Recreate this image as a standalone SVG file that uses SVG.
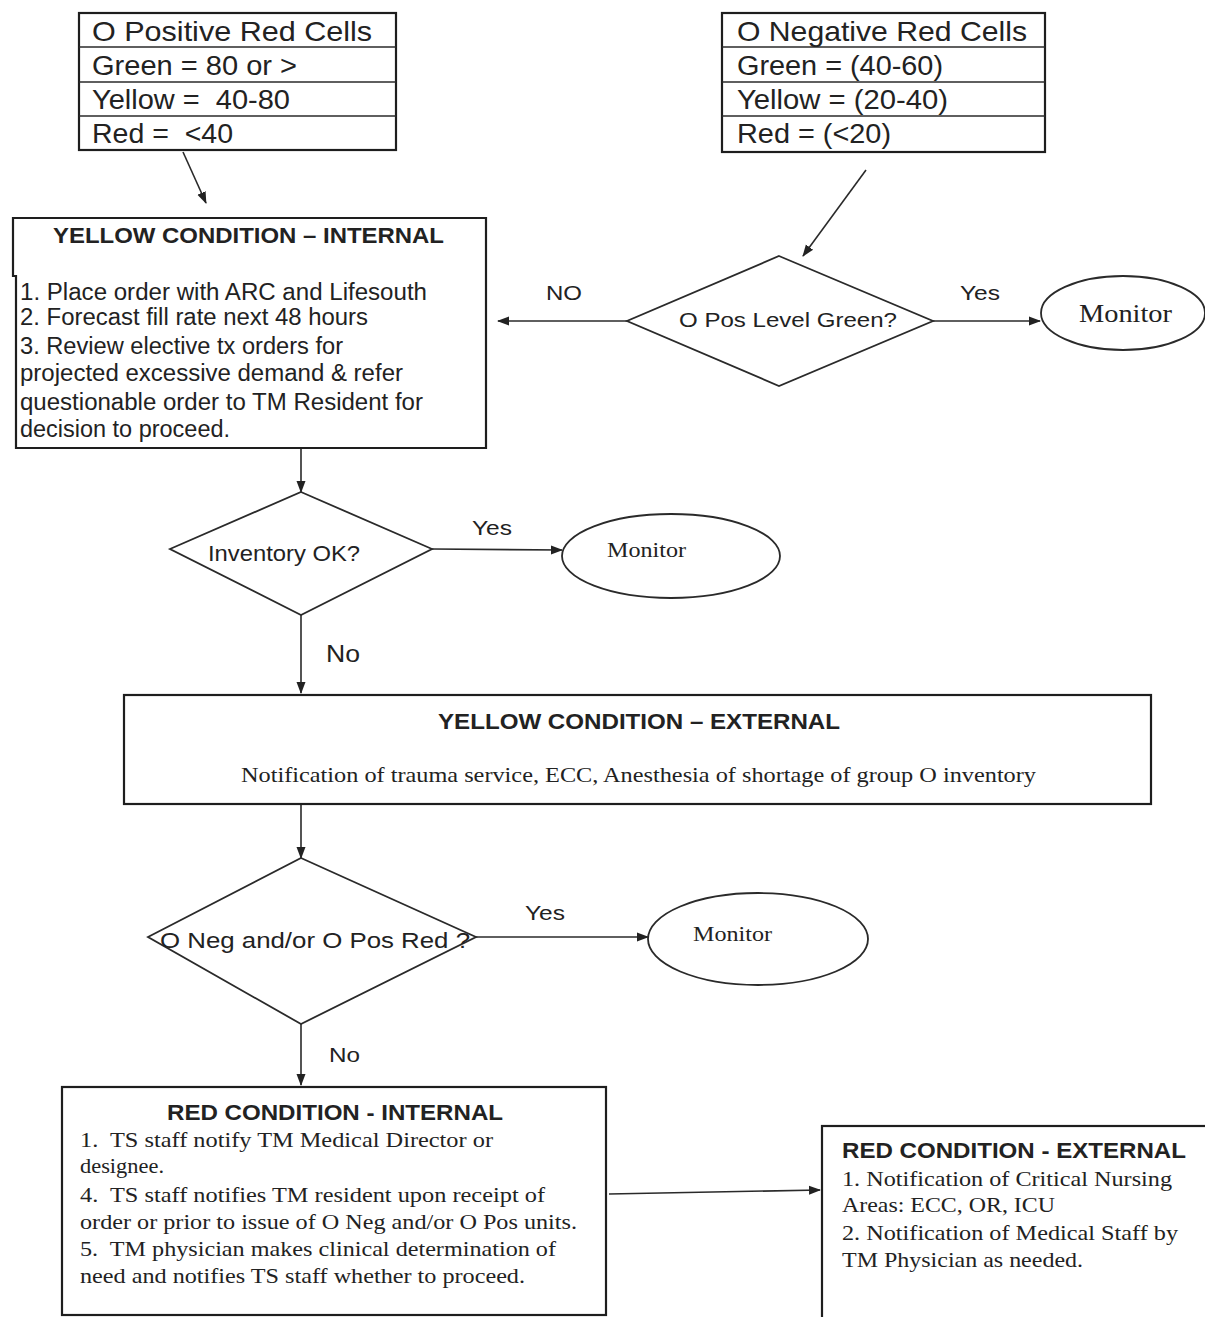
<svg xmlns="http://www.w3.org/2000/svg" width="1205" height="1317" viewBox="0 0 1205 1317">
  <style>
    .box { fill: #fff; stroke: #1e1e1e; stroke-width: 2.2; }
    .shape { fill: #fff; stroke: #2a2a2a; stroke-width: 1.8; }
    .edge { fill: none; stroke: #2a2a2a; stroke-width: 1.6; }
    .sans { font-family: "Liberation Sans", Arial, sans-serif; fill: #222; }
    .bold { font-family: "Liberation Sans", Arial, sans-serif; font-weight: bold; fill: #222; }
    .serif { font-family: "Liberation Serif", "Times New Roman", serif; fill: #222; }
  </style>
  <defs>
    <marker id="arrow" markerWidth="12" markerHeight="12" refX="11" refY="6" orient="auto" markerUnits="userSpaceOnUse">
      <path d="M0,1.5 L12,6 L0,10.5 Z" fill="#222"/>
    </marker>
  </defs>
  <rect width="1205" height="1317" fill="#fff"/>

  <!-- connectors -->
  <g id="connectors">
    <line class="edge" x1="183" y1="152" x2="206" y2="203" marker-end="url(#arrow)"/>
    <line class="edge" x1="866" y1="170" x2="803" y2="256" marker-end="url(#arrow)"/>
    <line class="edge" x1="627" y1="321" x2="498" y2="321" marker-end="url(#arrow)"/>
    <line class="edge" x1="933" y1="321" x2="1040" y2="321" marker-end="url(#arrow)"/>
    <line class="edge" x1="301" y1="448" x2="301" y2="492" marker-end="url(#arrow)"/>
    <line class="edge" x1="432" y1="549" x2="562" y2="550" marker-end="url(#arrow)"/>
    <line class="edge" x1="301" y1="615" x2="301" y2="693" marker-end="url(#arrow)"/>
    <line class="edge" x1="301" y1="804" x2="301" y2="858" marker-end="url(#arrow)"/>
    <line class="edge" x1="476" y1="937" x2="648" y2="937" marker-end="url(#arrow)"/>
    <line class="edge" x1="301" y1="1024" x2="301" y2="1085" marker-end="url(#arrow)"/>
    <line class="edge" x1="609" y1="1194" x2="820" y2="1190" marker-end="url(#arrow)"/>
    <text class="sans" x="546" y="300" font-size="21" textLength="36" lengthAdjust="spacingAndGlyphs">NO</text>
    <text class="sans" x="960" y="300" font-size="21" textLength="40" lengthAdjust="spacingAndGlyphs">Yes</text>
    <text class="sans" x="472" y="535" font-size="21" textLength="40" lengthAdjust="spacingAndGlyphs">Yes</text>
    <text class="sans" x="326" y="662" font-size="24" textLength="34" lengthAdjust="spacingAndGlyphs">No</text>
    <text class="sans" x="525" y="920" font-size="21" textLength="40" lengthAdjust="spacingAndGlyphs">Yes</text>
    <text class="sans" x="329" y="1062" font-size="21" textLength="31" lengthAdjust="spacingAndGlyphs">No</text>
  </g>

  <!-- O Positive thresholds table -->
  <g id="o-positive-table">
    <rect class="box" x="79" y="13" width="317" height="137"/>
    <line class="edge" x1="79" y1="47" x2="396" y2="47" stroke-width="2.2"/>
    <line class="edge" x1="79" y1="82" x2="396" y2="82" stroke-width="2.2"/>
    <line class="edge" x1="79" y1="116" x2="396" y2="116" stroke-width="2.2"/>
    <text class="sans" x="92" y="41" font-size="28" textLength="280" lengthAdjust="spacingAndGlyphs">O Positive Red Cells</text>
    <text class="sans" x="92" y="75" font-size="27" textLength="205" lengthAdjust="spacingAndGlyphs">Green = 80 or &gt;</text>
    <text class="sans" x="92" y="109" font-size="27" textLength="198" lengthAdjust="spacingAndGlyphs" xml:space="preserve">Yellow =  40-80</text>
    <text class="sans" x="92" y="143" font-size="27" textLength="141" lengthAdjust="spacingAndGlyphs" xml:space="preserve">Red =  &lt;40</text>
  </g>

  <!-- O Negative thresholds table -->
  <g id="o-negative-table">
    <rect class="box" x="722" y="13" width="323" height="139"/>
    <line class="edge" x1="722" y1="47" x2="1045" y2="47" stroke-width="2.2"/>
    <line class="edge" x1="722" y1="82" x2="1045" y2="82" stroke-width="2.2"/>
    <line class="edge" x1="722" y1="116" x2="1045" y2="116" stroke-width="2.2"/>
    <text class="sans" x="737" y="41" font-size="28" textLength="290" lengthAdjust="spacingAndGlyphs">O Negative Red Cells</text>
    <text class="sans" x="737" y="75" font-size="27" textLength="206" lengthAdjust="spacingAndGlyphs">Green = (40-60)</text>
    <text class="sans" x="737" y="109" font-size="27" textLength="211" lengthAdjust="spacingAndGlyphs">Yellow = (20-40)</text>
    <text class="sans" x="737" y="143" font-size="27" textLength="154" lengthAdjust="spacingAndGlyphs">Red = (&lt;20)</text>
  </g>

  <!-- Yellow condition, internal -->
  <g id="yellow-internal">
    <path class="box" d="M13,218 H486 V448 H16 V276 H13 Z"/>
    <text class="bold" x="53" y="243" font-size="22" textLength="391" lengthAdjust="spacingAndGlyphs">YELLOW CONDITION – INTERNAL</text>
    <text class="sans" x="20" y="300" font-size="23" textLength="407" lengthAdjust="spacingAndGlyphs">1. Place order with ARC and Lifesouth</text>
    <text class="sans" x="20" y="325" font-size="23" textLength="348" lengthAdjust="spacingAndGlyphs">2. Forecast fill rate next 48 hours</text>
    <text class="sans" x="20" y="354" font-size="23" textLength="323" lengthAdjust="spacingAndGlyphs">3. Review elective tx orders for</text>
    <text class="sans" x="20" y="381" font-size="23" textLength="383" lengthAdjust="spacingAndGlyphs">projected excessive demand &amp; refer</text>
    <text class="sans" x="20" y="410" font-size="23" textLength="403" lengthAdjust="spacingAndGlyphs">questionable order to TM Resident for</text>
    <text class="sans" x="20" y="437" font-size="23" textLength="210" lengthAdjust="spacingAndGlyphs">decision to proceed.</text>
  </g>

  <!-- Decision: O Pos level green -->
  <g id="decision-opos-green">
    <polygon class="shape" points="779,256 933,321 779,386 627,321"/>
    <text class="sans" x="679" y="327" font-size="21" textLength="218" lengthAdjust="spacingAndGlyphs">O Pos Level Green?</text>
  </g>

  <g id="monitor-1">
    <ellipse class="shape" cx="1123" cy="313" rx="82" ry="37"/>
    <text class="serif" x="1079" y="322" font-size="26" textLength="93" lengthAdjust="spacingAndGlyphs">Monitor</text>
  </g>

  <!-- Decision: inventory OK -->
  <g id="decision-inventory">
    <polygon class="shape" points="301,492 432,549 301,615 170,549"/>
    <text class="sans" x="208" y="561" font-size="22" textLength="152" lengthAdjust="spacingAndGlyphs">Inventory OK?</text>
  </g>

  <g id="monitor-2">
    <ellipse class="shape" cx="671" cy="556" rx="109" ry="42"/>
    <text class="serif" x="607" y="557" font-size="22" textLength="79" lengthAdjust="spacingAndGlyphs">Monitor</text>
  </g>

  <!-- Yellow condition, external -->
  <g id="yellow-external">
    <rect class="box" x="124" y="695" width="1027" height="109"/>
    <text class="bold" x="438" y="729" font-size="22" textLength="402" lengthAdjust="spacingAndGlyphs">YELLOW CONDITION – EXTERNAL</text>
    <text class="serif" x="241" y="782" font-size="22" textLength="795" lengthAdjust="spacingAndGlyphs">Notification of trauma service, ECC, Anesthesia of shortage of group O inventory</text>
  </g>

  <!-- Decision: O Neg and/or O Pos red -->
  <g id="decision-red">
    <polygon class="shape" points="301,858 476,937 301,1024 148,937"/>
    <text class="sans" x="160" y="948" font-size="22" textLength="310" lengthAdjust="spacingAndGlyphs">O Neg and/or O Pos Red ?</text>
  </g>

  <g id="monitor-3">
    <ellipse class="shape" cx="758" cy="939" rx="110" ry="46"/>
    <text class="serif" x="693" y="941" font-size="22" textLength="79" lengthAdjust="spacingAndGlyphs">Monitor</text>
  </g>

  <!-- Red condition, internal -->
  <g id="red-internal">
    <rect class="box" x="62" y="1087" width="544" height="228"/>
    <text class="bold" x="167" y="1120" font-size="22" textLength="336" lengthAdjust="spacingAndGlyphs">RED CONDITION - INTERNAL</text>
    <text class="serif" x="80" y="1147" font-size="22" textLength="413" lengthAdjust="spacingAndGlyphs" xml:space="preserve">1.  TS staff notify TM Medical Director or</text>
    <text class="serif" x="80" y="1173" font-size="22" textLength="84" lengthAdjust="spacingAndGlyphs">designee.</text>
    <text class="serif" x="80" y="1202" font-size="22" textLength="465" lengthAdjust="spacingAndGlyphs" xml:space="preserve">4.  TS staff notifies TM resident upon receipt of</text>
    <text class="serif" x="80" y="1229" font-size="22" textLength="497" lengthAdjust="spacingAndGlyphs">order or prior to issue of O Neg and/or O Pos units.</text>
    <text class="serif" x="80" y="1256" font-size="22" textLength="476" lengthAdjust="spacingAndGlyphs" xml:space="preserve">5.  TM physician makes clinical determination of</text>
    <text class="serif" x="80" y="1283" font-size="22" textLength="445" lengthAdjust="spacingAndGlyphs">need and notifies TS staff whether to proceed.</text>
  </g>

  <!-- Red condition, external -->
  <g id="red-external">
    <rect class="box" x="822" y="1126" width="400" height="210"/>
    <text class="bold" x="842" y="1158" font-size="22" textLength="344" lengthAdjust="spacingAndGlyphs">RED CONDITION - EXTERNAL</text>
    <text class="serif" x="842" y="1186" font-size="22" textLength="330" lengthAdjust="spacingAndGlyphs">1. Notification of Critical Nursing</text>
    <text class="serif" x="842" y="1212" font-size="22" textLength="213" lengthAdjust="spacingAndGlyphs">Areas: ECC, OR, ICU</text>
    <text class="serif" x="842" y="1240" font-size="22" textLength="336" lengthAdjust="spacingAndGlyphs">2. Notification of Medical Staff by</text>
    <text class="serif" x="842" y="1267" font-size="22" textLength="241" lengthAdjust="spacingAndGlyphs">TM Physician as needed.</text>
  </g>
</svg>
